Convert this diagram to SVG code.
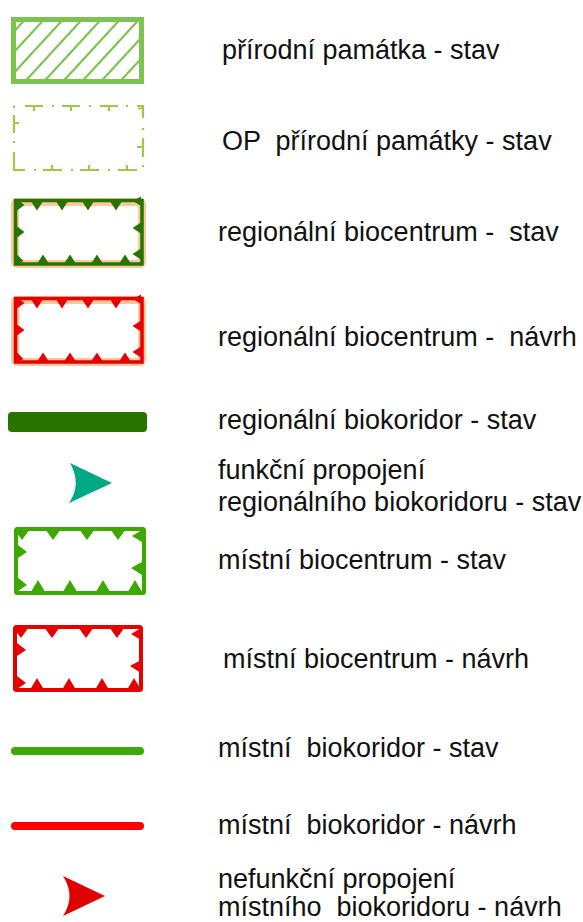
<svg xmlns="http://www.w3.org/2000/svg" width="583" height="922" viewBox="0 0 583 922">
<style>
text{font-family:"Liberation Sans",Arial,sans-serif;font-size:27px;fill:#111;white-space:pre}
.hatch{stroke:#7dc352;stroke-width:2.2;fill:none}
.op{stroke:#9dc84a;stroke-width:2.2;fill:none}
.rbg{fill:#267500}
.rbr{fill:#e80000}
</style>
<defs>
<clipPath id="pp"><rect x="13.5" y="19.5" width="128" height="62"/></clipPath>
<g id="regtri">
<polygon points="31.5,202 42.5,202 37,210.5"/>
<polygon points="56.5,202 67.5,202 62,210.5"/>
<polygon points="82.5,202 93.5,202 88,210.5"/>
<polygon points="110.5,202 121.5,202 116,210.5"/>
<polygon points="37.5,263 48.5,263 43,254.5"/>
<polygon points="64.5,263 75.5,263 70,254.5"/>
<polygon points="91.5,263 102.5,263 97,254.5"/>
<polygon points="119.5,263 130.5,263 125,254.5"/>
<polygon points="17,199.5 17,210.5 24.5,205"/>
<polygon points="17,226.5 17,237.5 24.5,232"/>
<polygon points="17,254.5 17,264 23.5,261"/>
<polygon points="141,196.5 141,206 133,201"/>
<polygon points="141,222.5 141,233.5 132.5,228"/>
<polygon points="141,248.5 141,259.5 132.5,254"/>
</g>
<g id="loctri">
<polygon points="1.5,4 14.5,4 8,13"/>
<polygon points="32.5,4 45.5,4 39,13"/>
<polygon points="66.5,4 79.5,4 73,13"/>
<polygon points="97.5,4 110.5,4 104,13"/>
<polygon points="128,3 128,15 118,9"/>
<polygon points="128,35 128,48 117,41"/>
<polygon points="4,18 4,31 13,25"/>
<polygon points="4,51 4,64 13,58"/>
<polygon points="17.5,64 30.5,64 24,53"/>
<polygon points="49.5,64 62.5,64 56,53"/>
<polygon points="82.5,64 95.5,64 89,53"/>
<polygon points="114.5,64 127.5,64 121,53"/>
</g>
</defs>

<g id="prirodni-pamatka">
<g clip-path="url(#pp)" class="hatch">
<line x1="-51" y1="81.5" x2="6" y2="19.5"/>
<line x1="-32" y1="81.5" x2="25" y2="19.5"/>
<line x1="-13" y1="81.5" x2="44" y2="19.5"/>
<line x1="6" y1="81.5" x2="63" y2="19.5"/>
<line x1="25" y1="81.5" x2="82" y2="19.5"/>
<line x1="44" y1="81.5" x2="101" y2="19.5"/>
<line x1="63" y1="81.5" x2="120" y2="19.5"/>
<line x1="82" y1="81.5" x2="139" y2="19.5"/>
<line x1="101" y1="81.5" x2="158" y2="19.5"/>
<line x1="120" y1="81.5" x2="177" y2="19.5"/>
<line x1="139" y1="81.5" x2="196" y2="19.5"/>
</g>
<rect x="13.5" y="19.5" width="128" height="62" fill="none" stroke="#7dc352" stroke-width="5"/>
<text x="222" y="59">přírodní památka - stav</text>
</g>

<g id="op-prirodni-pamatky">
<g class="op">
<path d="M14,105.5V108 M25,106H43 M34,106V111 M52,106H54 M62,106H80 M71,106V111 M89,106H91 M100,106H118 M109,106V111 M126,106H128 M137,106H143V118 M143,108.5H138 M143,128V130 M143,138V157 M143,147H137 M143,165V167"/>
<path d="M14,115V133 M14,123H19 M14,141V143 M14,152V170H25 M34,170H36 M43,170H62 M52,170V165 M71,170H73 M80,170H99 M89,170V165 M108,170H110 M118,170H137 M127,170V165"/>
</g>
<text x="222" y="150">OP  přírodní památky - stav</text>
</g>

<g id="regionalni-biocentrum-stav">
<rect x="15" y="202" width="127" height="62" rx="2" fill="#fff" stroke="#fbc99b" stroke-width="8"/>
<rect x="15.5" y="200.5" width="126.5" height="63.5" fill="none" stroke="#267500" stroke-width="3.5"/>
<use href="#regtri" class="rbg"/>
<text x="218" y="241">regionální biocentrum -  stav</text>
</g>

<g id="regionalni-biocentrum-navrh">
<g transform="translate(0,98)">
<rect x="15" y="202" width="127" height="62" rx="2" fill="#fff" stroke="#fbc99b" stroke-width="8"/>
<rect x="15.5" y="200.5" width="126.5" height="63.5" fill="none" stroke="#e80000" stroke-width="3.5"/>
<use href="#regtri" class="rbr"/>
</g>
<text x="218" y="346">regionální biocentrum -  návrh</text>
</g>

<g id="regionalni-biokoridor-stav">
<rect x="8" y="412" width="139" height="20" rx="4" fill="#297300"/>
<text x="218" y="429">regionální biokoridor - stav</text>
</g>

<g id="funkcni-propojeni">
<path d="M70,463 L112,483 L69,503 Q82,484 70,463 Z" fill="#00a884"/>
<text x="218" y="479">funkční propojení</text>
<text x="218" y="511">regionálního biokoridoru - stav</text>
</g>

<g id="mistni-biocentrum-stav">
<g transform="translate(14,527)">
<rect x="2" y="2" width="128" height="64" rx="1.5" fill="#fff" stroke="#3ea800" stroke-width="4"/>
<use href="#loctri" fill="#3ea800"/>
</g>
<text x="218" y="569">místní biocentrum - stav</text>
</g>

<g id="mistni-biocentrum-navrh">
<g transform="translate(13,625)">
<rect x="2" y="2" width="126" height="63" rx="1.5" fill="#fff" stroke="#e60000" stroke-width="4"/>
<use href="#loctri" fill="#e60000"/>
</g>
<text x="223" y="668">místní biocentrum - návrh</text>
</g>

<g id="mistni-biokoridor-stav">
<line x1="15" y1="751" x2="140" y2="751" stroke="#3ea800" stroke-width="8" stroke-linecap="round"/>
<text x="218" y="757">místní  biokoridor - stav</text>
</g>

<g id="mistni-biokoridor-navrh">
<line x1="15" y1="826" x2="140" y2="826" stroke="#ff0000" stroke-width="8" stroke-linecap="round"/>
<text x="218" y="834">místní  biokoridor - návrh</text>
</g>

<g id="nefunkcni-propojeni">
<path d="M63,876 L105,896 L63,916 Q76,896 63,876 Z" fill="#e00000"/>
<text x="218" y="888">nefunkční propojení</text>
<text x="218" y="916">místního  biokoridoru - návrh</text>
</g>

<g id="connectors"/>
</svg>
